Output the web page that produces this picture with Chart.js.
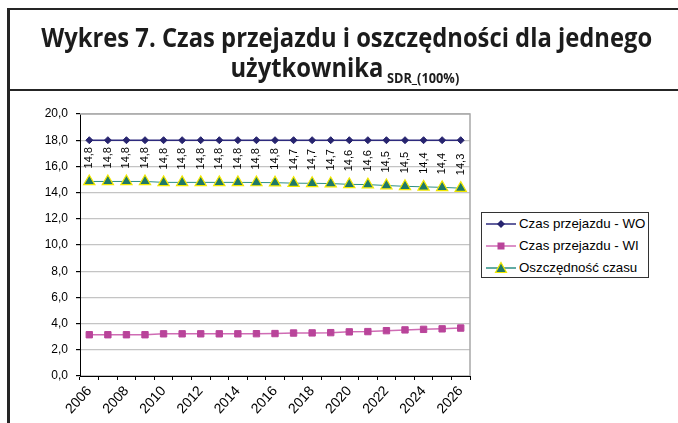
<!DOCTYPE html>
<html>
<head>
<meta charset="utf-8">
<script src="https://cdn.jsdelivr.net/npm/chart.js@4.4.0/dist/chart.umd.min.js"></script>
<style>
  body { margin: 0; background: #fff; }
  #wrap { position: relative; width: 678px; height: 423px; overflow: hidden; background: #fff; }
  #c { position: absolute; left: 0; top: 0; }
  .frame { position: absolute; background: #252525; }
  #title { position: absolute; left: 0; top: 22px; width: 690px; text-align: center;
           font-family: 'Open Sans', sans-serif; font-weight: 700; font-size: 27px;
           line-height: 30px; color: #1c1c1c; }
  #title .ln { display: inline-block; white-space: nowrap; transform-origin: center; }
  #title .sub { font-size: 14.5px; vertical-align: -6px; margin-left: -3px; }
  #legend { position: absolute; left: 481px; top: 212px; width: 166px; height: 64px;
            border: 1px solid #333; background: #fff;
            font-family: 'Liberation Sans', Arial, sans-serif; font-size: 13.3px; color: #000; }
  .row { position: absolute; left: 4px; height: 16px; }
  .row canvas { position: absolute; left: 0; top: 1px; }
  .row span { position: absolute; left: 33px; top: 0; white-space: nowrap; line-height: 16px; }
</style>
</head>
<body>
<div id="wrap">
  <canvas id="c" width="678" height="423"></canvas>
  <div class="frame" style="left:7px;top:8px;width:671px;height:2px"></div>
  <div class="frame" style="left:7px;top:89px;width:671px;height:2px"></div>
  <div class="frame" style="left:7px;top:8px;width:3px;height:415px"></div>
  <div id="title">
    <div><span class="ln" id="t1">Wykres 7. Czas przejazdu i oszczędności dla jednego</span></div>
    <div><span class="ln" id="t2">użytkownika <span class="sub">SDR_(100%)</span></span></div>
  </div>
  <div id="legend"></div>
</div>
<script>
// ---- data ----
const lata = ['2006','2007','2008','2009','2010','2011','2012','2013','2014','2015','2016',
              '2017','2018','2019','2020','2021','2022','2023','2024','2025','2026'];
const czasWO = [18.0,18.0,18.0,18.0,18.0,18.0,18.0,18.0,18.0,18.0,18.0,
                18.0,18.0,18.0,18.0,18.0,18.0,18.0,18.0,18.0,18.0];
const czasWI = [3.15,3.15,3.15,3.15,3.22,3.22,3.22,3.22,3.22,3.23,3.24,
                3.28,3.29,3.31,3.37,3.39,3.46,3.52,3.56,3.60,3.66];
const oszczednosc = [14.85,14.85,14.85,14.85,14.78,14.78,14.78,14.78,14.78,14.77,14.76,
                     14.72,14.71,14.69,14.63,14.61,14.54,14.48,14.44,14.40,14.34];
const osY = [0,2,4,6,8,10,12,14,16,18,20];

const kolory = {
  wo: '#27246f', woLine: '#2e2b7e',
  wi: '#b9449a', wiLine: '#cf6cb4',
  os: '#1e7868', osLine: '#2d8f84', osBorder: '#f2e800'
};

// ---- title fit ----
const t1 = document.getElementById('t1');
const t2 = document.getElementById('t2');
const sx = 611 / t1.getBoundingClientRect().width;
t1.style.transform = 'scaleX(' + sx + ')';
t2.style.transform = 'scaleX(' + sx + ')';

const fmt = v => v.toFixed(1).replace('.', ',');

/*---------------- etykiety danych (pionowe) ----------------*/
const etykiety = {
  id: 'etykiety',
  afterDatasetsDraw(chart) {
    const ctx = chart.ctx;
    const meta = chart.getDatasetMeta(2);
    ctx.save();
    ctx.font = '11px "Liberation Sans", Arial';
    ctx.fillStyle = '#000';
    ctx.textAlign = 'left';
    ctx.textBaseline = 'middle';
    meta.data.forEach((p, i) => {
      ctx.save();
      ctx.translate(p.x, p.y - 13);
      ctx.rotate(-Math.PI / 2);
      ctx.fillText(fmt(oszczednosc[i]), 0, 0);
      ctx.restore();
    });
    ctx.restore();
  }
};

const ramka = {
  id: 'ramka',
  beforeDatasetsDraw(chart) {
    const a = chart.chartArea, ctx = chart.ctx;
    ctx.save();
    ctx.strokeStyle = '#a8a8a8';
    ctx.lineWidth = 1.5;
    ctx.beginPath();
    ctx.moveTo(a.left, a.top);
    ctx.lineTo(a.right, a.top);
    ctx.lineTo(a.right, a.bottom);
    ctx.stroke();
    ctx.restore();
  }
};

Chart.defaults.font.family = '"Liberation Sans", Arial, sans-serif';
Chart.defaults.font.size = 12;
Chart.defaults.color = '#000';

let ctx = document.getElementById('c').getContext('2d');
let wykres = new Chart(ctx, {
  type: 'line',
  data: {
    labels: lata,
    datasets: [{
      label: 'Czas przejazdu - WO',
      data: czasWO,
      borderColor: kolory.woLine,
      borderWidth: 1.5,
      pointStyle: 'rectRot',
      pointRadius: 3.5,
      pointBackgroundColor: kolory.wo,
      pointBorderColor: kolory.wo,
      pointBorderWidth: 1
    }, {
      label: 'Czas przejazdu - WI',
      data: czasWI,
      borderColor: kolory.wiLine,
      borderWidth: 1.5,
      pointStyle: 'rect',
      pointRadius: 4.5,
      pointBackgroundColor: kolory.wi,
      pointBorderColor: kolory.wi,
      pointBorderWidth: 1
    }, {
      label: 'Oszczędność czasu',
      data: oszczednosc,
      borderColor: kolory.osLine,
      borderWidth: 1,
      pointStyle: 'triangle',
      pointRadius: 6.5,
      pointBackgroundColor: kolory.os,
      pointBorderColor: kolory.osBorder,
      pointBorderWidth: 1.2
    }]
  },
  options: {
    responsive: false,
    animation: false,
    layout: { padding: { left: 0, right: 208, top: 114, bottom: 0 } },
    plugins: { legend: { display: false }, tooltip: { enabled: false } },
    scales: {
      x: {
        offset: true,
        grid: { offset: true, drawOnChartArea: false, tickLength: 4, tickColor: '#000' },
        border: { color: '#000', width: 1 },
        ticks: {
          autoSkip: false, maxRotation: 48, minRotation: 48, padding: 3,
          font: { size: 14 },
          callback: (v, i) => (i % 2 === 0 ? lata[i] : '')
        },
        afterFit: s => { s.height = 47; }
      },
      y: {
        min: 0, max: 20,
        afterBuildTicks: s => { s.ticks = osY.map(v => ({ value: v })); },
        grid: { color: '#c4c4c4', lineWidth: 1.2, tickLength: 4, tickColor: '#000' },
        border: { color: '#000', width: 1 },
        ticks: { padding: 8, callback: v => fmt(v) },
        afterFit: s => { s.width = 80; }
      }
    }
  },
  plugins: [ramka, etykiety]
});

/*---------------- legenda ----------------*/
const legenda = document.getElementById('legend');
const wpisy = [
  { tekst: 'Czas przejazdu - WO', kolor: kolory.woLine, znak: 'romb' },
  { tekst: 'Czas przejazdu - WI', kolor: kolory.wiLine, znak: 'kwadrat' },
  { tekst: 'Oszczędność czasu', kolor: kolory.osLine, znak: 'trojkat' }
];
wpisy.forEach((w, i) => {
  const row = document.createElement('div');
  row.className = 'row';
  row.style.top = (3 + i * 22) + 'px';
  const cv = document.createElement('canvas');
  cv.width = 30; cv.height = 14;
  const g = cv.getContext('2d');
  g.strokeStyle = w.kolor; g.lineWidth = 1.5;
  g.beginPath(); g.moveTo(0, 7); g.lineTo(30, 7); g.stroke();
  if (w.znak === 'romb') {
    g.fillStyle = kolory.wo;
    g.beginPath(); g.moveTo(15, 3); g.lineTo(19, 7); g.lineTo(15, 11); g.lineTo(11, 7); g.closePath(); g.fill();
  } else if (w.znak === 'kwadrat') {
    g.fillStyle = kolory.wi;
    g.fillRect(11.5, 3.5, 7, 7);
  } else {
    g.fillStyle = kolory.os; g.strokeStyle = kolory.osBorder; g.lineWidth = 1.2;
    g.beginPath(); g.moveTo(15, 1.5); g.lineTo(20.5, 11.5); g.lineTo(9.5, 11.5); g.closePath(); g.fill(); g.stroke();
  }
  const sp = document.createElement('span');
  sp.textContent = w.tekst;
  row.appendChild(cv);
  row.appendChild(sp);
  legenda.appendChild(row);
});
</script>
</body>
</html>
